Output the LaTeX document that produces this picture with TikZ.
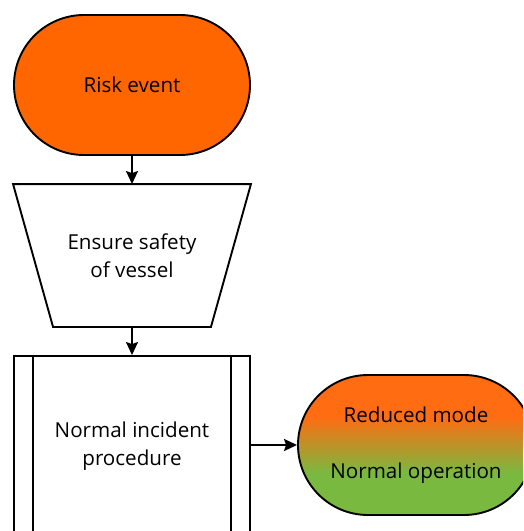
\documentclass[tikz,border=0pt]{standalone}
\usepackage{fontspec}
\setmainfont{Open Sans}
\usetikzlibrary{shapes.misc,arrows.meta}
\definecolor{rorange}{HTML}{FF6600}
\definecolor{gorange}{HTML}{FF6C12}
\definecolor{ggreen}{HTML}{7AB940}
\pgfdeclareverticalshading{modeshade}{100bp}{color(0bp)=(ggreen); color(40bp)=(ggreen); color(60bp)=(gorange); color(100bp)=(gorange)}
\tikzset{
  base/.style={line width=1.9pt, font=\fontsize{20.6}{28}\selectfont, align=center, inner sep=0pt},
  term/.style={base, rounded rectangle, draw, minimum width=236pt, minimum height=140pt},
  conn/.style={line width=1.9pt, -{Stealth[length=13pt,width=12pt,inset=2pt]}},
}
\begin{document}
\begin{tikzpicture}[x=1pt,y=-1pt]
\useasboundingbox (0,0) rectangle (523,531);
\clip (0,0) rectangle (523,531);
% Risk event
\node[term, fill=rorange] (risk) at (132,85) {Risk event};
% Trapezoid (anchor node)
\node[base, minimum width=236pt, minimum height=141pt] (ensure) at (132,255.5) {Ensure safety\\of vessel};
\draw[line width=1.9pt, line join=miter] (ensure.north west) -- (ensure.north east)
  -- ([xshift=-40pt]ensure.south east) -- ([xshift=40pt]ensure.south west) -- cycle;
% Predefined process
\node[base, draw, minimum width=236pt, minimum height=180pt] (proc) at (132,446) {Normal incident\\procedure};
\draw[line width=1.9pt] ([xshift=20pt]proc.north west) -- ([xshift=20pt]proc.south west);
\draw[line width=1.9pt] ([xshift=-20pt]proc.north east) -- ([xshift=-20pt]proc.south east);
% Outcome
\node[term, shading=modeshade, font=\fontsize{20.6}{56}\selectfont] (mode) at (416,445) {Reduced mode\\Normal operation};
% Connectors
\draw[conn] (risk.south) -- (ensure.north);
\draw[conn] (ensure.south) -- (proc.north);
\draw[conn] (proc.east |- mode.west) -- (mode.west);
\end{tikzpicture}
\end{document}
